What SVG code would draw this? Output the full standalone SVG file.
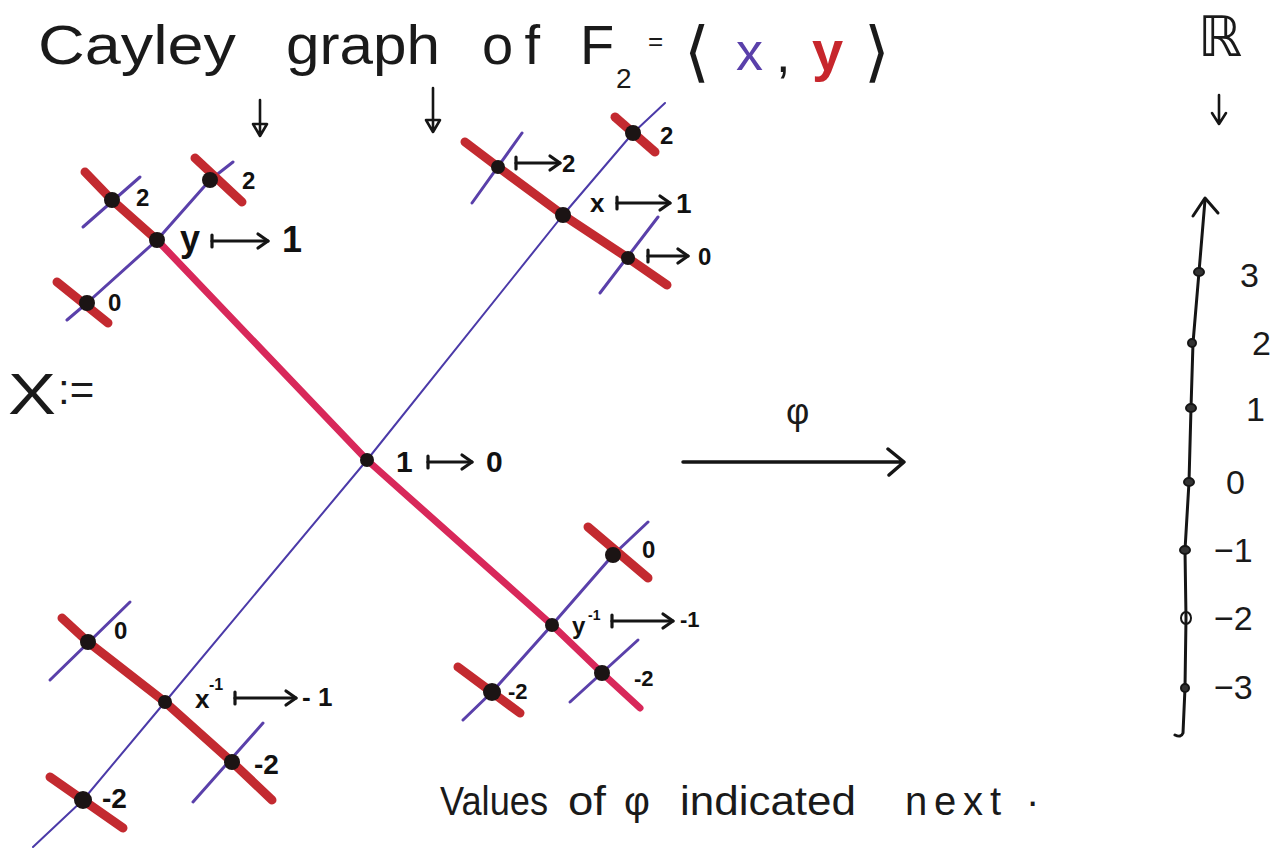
<svg xmlns="http://www.w3.org/2000/svg" width="1281" height="854" viewBox="0 0 1281 854">
<defs>
<style>
.t{font-family:"Liberation Sans","DejaVu Sans",sans-serif;fill:#1a1a1a}
.m{font-family:"DejaVu Sans","Liberation Sans",sans-serif;fill:#1a1a1a}
.lb{font-family:"Liberation Sans","DejaVu Sans",sans-serif;font-weight:bold;fill:#111}
.pk{fill:none;stroke:#d8285a;stroke-width:7;stroke-linecap:round;stroke-linejoin:round}
.rd{fill:none;stroke:#c32a30;stroke-width:9;stroke-linecap:round;stroke-linejoin:round}
.pu{fill:none;stroke:#5a40aa;stroke-width:3;stroke-linecap:round;stroke-linejoin:round}
.pm{fill:none;stroke:#4b3aa8;stroke-width:2;stroke-linecap:round;stroke-linejoin:round}
.dot{fill:#1b1414}
.mt{fill:none;stroke:#151515;stroke-width:3.2;stroke-linecap:round;marker-start:url(#bar);marker-end:url(#chev)}
.ar{fill:none;stroke:#151515;stroke-width:2.6;stroke-linecap:round;stroke-linejoin:round}
</style>
<marker id="bar" markerUnits="userSpaceOnUse" viewBox="-2 -9 4 18" markerWidth="4" markerHeight="18" refX="0" refY="0" orient="auto" overflow="visible">
<path d="M0,-6 L0,6" stroke="#151515" stroke-width="3.2" stroke-linecap="round"/>
</marker>
<marker id="chev" markerUnits="userSpaceOnUse" viewBox="-12 -8 14 16" markerWidth="14" markerHeight="16" refX="0" refY="0" orient="auto" overflow="visible">
<path d="M-10,-7 L0,0 L-10,7" fill="none" stroke="#151515" stroke-width="3.2" stroke-linecap="round" stroke-linejoin="round"/>
</marker>
</defs>
<rect width="1281" height="854" fill="#ffffff"/>

<g id="title">
<text class="t" font-size="56" y="64"><tspan x="38" textLength="198" lengthAdjust="spacingAndGlyphs">Cayley</tspan><tspan x="286" textLength="154" lengthAdjust="spacingAndGlyphs">graph</tspan><tspan x="482" textLength="58" lengthAdjust="spacing">of</tspan><tspan x="580">F</tspan></text>
<text class="t" font-size="28" x="616" y="88">2</text>
<text class="t" font-size="26" x="648" y="50">=</text>
<text class="m" font-size="66" x="684" y="74">⟨</text>
<text class="t" font-size="54" x="736" y="70" style="fill:#5a40aa">x</text>
<text class="t" font-size="52" x="776" y="72">,</text>
<text class="lb" font-size="56" x="812" y="70" style="fill:#c7262c">y</text>
<text class="m" font-size="66" x="864" y="74">⟩</text>
<path class="ar" d="M260,100 L260,134 M253,124 L260,136 L267,124 Z"/>
<path class="ar" d="M433,88 L433,130 M426,120 L433,132 L440,120 Z"/>
</g>

<g id="R-label">
<text class="m" font-size="56" x="1198" y="56">ℝ</text>
<path class="ar" d="M1219,95 L1219,122 M1212,113 L1219,124 L1226,113"/>
</g>

<g id="X-label">
<text class="t" font-size="58" x="8" y="414" textLength="48" lengthAdjust="spacingAndGlyphs">X</text>
<text class="t" font-size="42" x="58" y="404">:=</text>
</g>

<g id="connectors">
<path class="pm" d="M33,847 L83,800 L165,702 L367,460 L563,215 L633,133 L665,103"/>
<path class="pk" d="M157,240 L367,460 L552,625 L602,673 L640,708"/>
<path class="rd" d="M85,172 L112,200 L157,240"/>
<path class="rd" d="M465,142 L498,167 L563,215 L628,258 L667,285"/>
<path class="rd" d="M62,618 L88,642 L165,702 L232,762 L272,800"/>
<path class="pu" d="M67,320 L87,303 L157,240 L210,180 L233,162"/>
<path class="pu" d="M463,720 L492,692 L552,625 L613,555 L648,522"/>
<path class="pu" d="M83,227 L140,177"/>
<path class="pu" d="M472,203 L522,133"/>
<path class="pu" d="M600,293 L658,217"/>
<path class="pu" d="M50,680 L130,602"/>
<path class="pu" d="M193,802 L263,723"/>
<path class="pu" d="M570,702 L638,640"/>
<path class="rd" d="M57,282 L108,323"/>
<path class="rd" d="M195,158 L242,202"/>
<path class="rd" d="M615,117 L655,152"/>
<path class="rd" d="M50,777 L123,828"/>
<path class="rd" d="M588,527 L648,578"/>
<path class="rd" d="M458,667 L520,713"/>
</g>

<g id="node-1">
<circle class="dot" cx="367" cy="460" r="7"/>
<text class="lb" font-size="30" x="396" y="472">1</text>
<path class="mt" d="M428,462 L472,462"/>
<text class="lb" font-size="30" x="486" y="472">0</text>
</g>

<g id="node-y">
<circle class="dot" cx="157" cy="240" r="8"/>
<text class="lb" font-size="36" x="180" y="251">y</text>
<path class="mt" d="M212,241 L268,241"/>
<text class="lb" font-size="36" x="282" y="252">1</text>
</g>
<g id="node-y-x">
<circle class="dot" cx="210" cy="180" r="8"/>
<text class="lb" font-size="24" x="242" y="189">2</text>
</g>
<g id="node-y-xinv">
<circle class="dot" cx="87" cy="303" r="8"/>
<text class="lb" font-size="24" x="108" y="311">0</text>
</g>
<g id="node-y-y">
<circle class="dot" cx="112" cy="200" r="8"/>
<text class="lb" font-size="24" x="136" y="206">2</text>
</g>

<g id="node-x">
<circle class="dot" cx="563" cy="215" r="8"/>
<text class="lb" font-size="26" x="590" y="212">x</text>
<path class="mt" d="M617,203 L670,203"/>
<text class="lb" font-size="28" x="676" y="213">1</text>
</g>
<g id="node-x-y">
<circle class="dot" cx="498" cy="167" r="7"/>
<path class="mt" d="M516,163 L560,163"/>
<text class="lb" font-size="24" x="562" y="172">2</text>
</g>
<g id="node-x-yinv">
<circle class="dot" cx="628" cy="258" r="7"/>
<path class="mt" d="M648,256 L688,256"/>
<text class="lb" font-size="24" x="698" y="265">0</text>
</g>
<g id="node-x-x">
<circle class="dot" cx="633" cy="133" r="8"/>
<text class="lb" font-size="24" x="660" y="144">2</text>
</g>

<g id="node-xinv">
<circle class="dot" cx="165" cy="702" r="7"/>
<text class="lb" font-size="26" x="195" y="708">x</text>
<text class="lb" font-size="16" x="209" y="690">-1</text>
<path class="mt" d="M235,698 L296,698"/>
<text class="lb" font-size="26" x="302" y="706">- 1</text>
</g>
<g id="node-xinv-y">
<circle class="dot" cx="88" cy="642" r="8"/>
<text class="lb" font-size="24" x="114" y="639">0</text>
</g>
<g id="node-xinv-yinv">
<circle class="dot" cx="232" cy="762" r="8"/>
<text class="lb" font-size="28" x="254" y="774">-2</text>
</g>
<g id="node-xinv-xinv">
<circle class="dot" cx="83" cy="800" r="9"/>
<text class="lb" font-size="28" x="102" y="808">-2</text>
</g>

<g id="node-yinv">
<circle class="dot" cx="552" cy="625" r="7"/>
<text class="lb" font-size="24" x="572" y="634">y</text>
<text class="lb" font-size="14" x="588" y="620">-1</text>
<path class="mt" d="M612,621 L673,621"/>
<text class="lb" font-size="22" x="680" y="627">-1</text>
</g>
<g id="node-yinv-x">
<circle class="dot" cx="613" cy="555" r="8"/>
<text class="lb" font-size="24" x="642" y="558">0</text>
</g>
<g id="node-yinv-xinv">
<circle class="dot" cx="492" cy="692" r="9"/>
<text class="lb" font-size="22" x="508" y="699">-2</text>
</g>
<g id="node-yinv-yinv">
<circle class="dot" cx="602" cy="673" r="8"/>
<text class="lb" font-size="22" x="634" y="686">-2</text>
</g>

<g id="phi-map">
<text class="t" font-size="36" x="786" y="424">φ</text>
<path d="M683,462 L902,462 M888,449 L904,462 L889,475" fill="none" stroke="#151515" stroke-width="3.5" stroke-linecap="round" stroke-linejoin="round"/>
</g>

<g id="real-line">
<path d="M1205,200 L1199,272 L1193,343 L1191,408 L1189,482 L1185,550 L1186,618 L1185,688 L1183,733 Q1181,738 1175,735" fill="none" stroke="#151515" stroke-width="3" stroke-linecap="round" stroke-linejoin="round"/>
<path d="M1193,216 L1205,198 L1218,213" fill="none" stroke="#151515" stroke-width="3" stroke-linecap="round" stroke-linejoin="round"/>
<g fill="#333" stroke="#151515" stroke-width="2">
<ellipse cx="1199" cy="272" rx="5" ry="4"/>
<ellipse cx="1192" cy="343" rx="4" ry="4"/>
<ellipse cx="1191" cy="408" rx="5" ry="4"/>
<ellipse cx="1189" cy="482" rx="5" ry="4"/>
<ellipse cx="1185" cy="550" rx="5" ry="4"/>
<ellipse cx="1186" cy="618" rx="5" ry="6" fill="none"/>
<ellipse cx="1185" cy="688" rx="4" ry="4"/>
</g>
<g class="t" font-size="34">
<text x="1240" y="287">3</text>
<text x="1252" y="355">2</text>
<text x="1246" y="421">1</text>
<text x="1226" y="494">0</text>
<text x="1214" y="562">−1</text>
<text x="1214" y="630">−2</text>
<text x="1214" y="699">−3</text>
</g>
</g>

<g id="caption">
<text class="t" font-size="40" y="815"><tspan x="440" textLength="108" lengthAdjust="spacingAndGlyphs">Values</tspan><tspan x="568" textLength="38" lengthAdjust="spacingAndGlyphs">of</tspan><tspan x="624">φ</tspan><tspan x="680" textLength="176" lengthAdjust="spacingAndGlyphs">indicated</tspan><tspan x="905" textLength="96" lengthAdjust="spacing">next</tspan><tspan x="1026">·</tspan></text>
</g>
</svg>
